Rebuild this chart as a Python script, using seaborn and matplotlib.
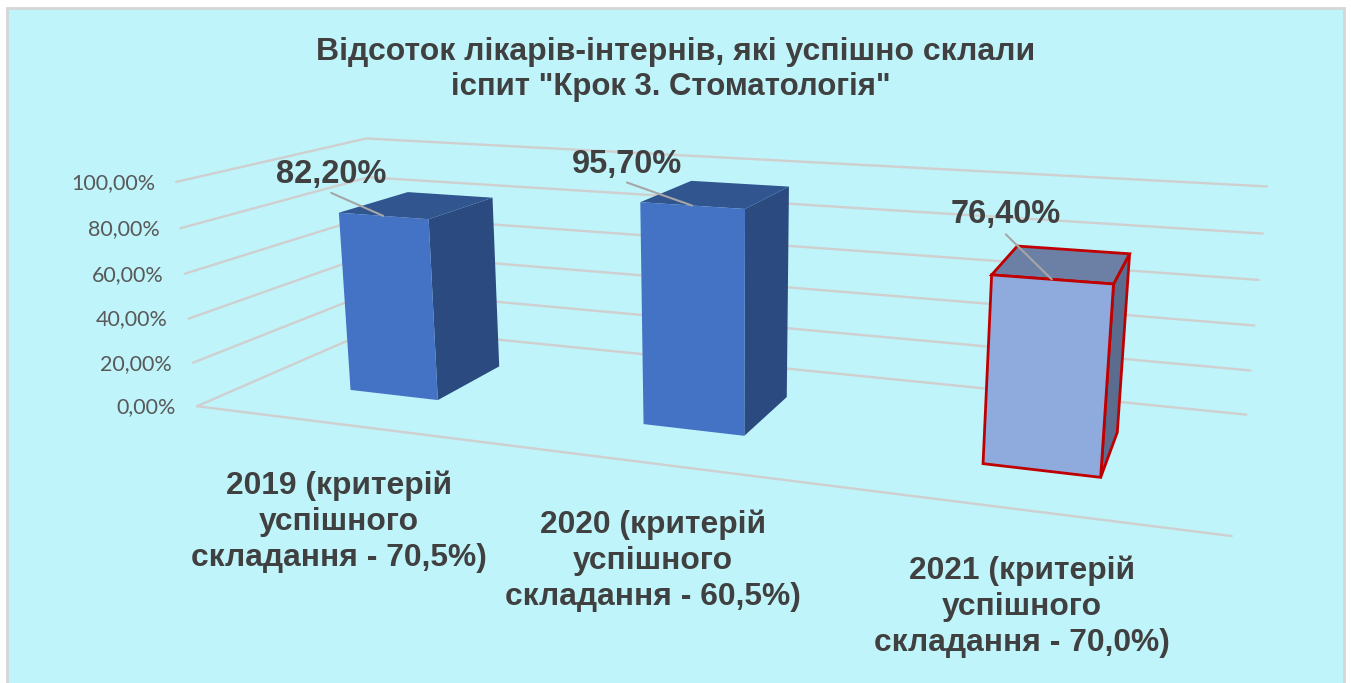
import numpy as np
import matplotlib
matplotlib.use("Agg")
import matplotlib.pyplot as plt
from matplotlib.transforms import Transform
from matplotlib.patches import Rectangle
import seaborn as sns

title_lines = ['Відсоток лікарів-інтернів, які успішно склали', 'іспит "Крок 3. Стоматологія"']
categories = ["2019 (критерій\nуспішного\nскладання - 70,5%)",
              "2020 (критерій\nуспішного\nскладання - 60,5%)",
              "2021 (критерій\nуспішного\nскладання - 70,0%)"]
values = [82.2, 95.7, 76.4]
data_labels = ["82,20%", "95,70%", "76,40%"]
ticks = [0, 20, 40, 60, 80, 100]
tick_labels = ["0,00%", "20,00%", "40,00%", "60,00%", "80,00%", "100,00%"]

# Camera of the 3-D chart: (category, value/100, depth, 1) -> thousandths of a pixel plane
CAMERA = np.array([[0.267071, -0.028547, 0.26353, 0.337772],
                   [0.005478, -0.239651, -0.015384, 0.42388],
                   [-0.073484, -0.039277, 0.20195, 1.0]])
BAR_WIDTH = 0.313
Z_FRONT, Z_BACK = 0.304, 0.700


def hom(X):
    X = np.atleast_2d(X)
    h = np.c_[X, np.ones(len(X))] @ CAMERA.T
    return h[:, :2] / h[:, 2:] * 1000


def project(x, y, z):
    return hom([x, y / 100, z])[0]


class Plane(Transform):
    """Maps (category, value) on the vertical plane at depth z to figure pixels."""
    input_dims = output_dims = 2

    def __init__(self, z):
        super().__init__()
        self.z = z

    def transform_non_affine(self, xy):
        xy = np.asarray(xy, float)
        return hom(np.c_[xy[:, 0], xy[:, 1] / 100, np.full(len(xy), self.z)])


sns.set_theme(style="white")
plt.rcParams['font.family'] = ['Liberation Sans', 'DejaVu Sans']
fig = plt.figure(figsize=(13.51, 6.83), dpi=100, facecolor="white")
ax = fig.add_axes([0, 0, 1, 1])

front_cols = ["#4472C4", "#4472C4", "#8FAADC"]
side_cols = ["#2A4A80", "#2A4A80", "#5B6C8F"]
top_cols = ["#30558F", "#30558F", "#6C7FA5"]
edges = ["none", "none", "#C00000"]
lws = [0, 0, 2.0]

sns.barplot(x=[0, 1, 2], y=values, hue=[0, 1, 2], palette=front_cols, saturation=1,
            dodge=False, legend=False, width=BAR_WIDTH, ax=ax, native_scale=True)
bars = list(ax.patches)
ax.set_xlim(0, 1351)
ax.set_ylim(683, 0)
ax.axis("off")

ax.add_patch(Rectangle((7, 8), 1337, 700, fc="#BFF4FA", ec="#D6D6D6", lw=2, zorder=0))

GRID = dict(color="#CFCFCF", lw=1.7, zorder=1, solid_capstyle="round")
for v in ticks:
    a, b, c = project(-.5, v, 0), project(-.5, v, 1), project(2.5, v, 1)
    ax.plot([a[0], b[0], c[0]], [a[1], b[1], c[1]], **GRID)
a, b = project(-.5, 0, 0), project(2.5, 0, 0)
ax.plot([a[0], b[0]], [a[1], b[1]], **GRID)

for v, s in zip(ticks, tick_labels):
    p = project(-.5, v, 0)
    ax.text(p[0] - 21, p[1] + 1, s, ha="right", va="center", fontsize=15.5,
            color="#595959", family="Lato", zorder=5)

for i, r in enumerate(bars):
    x0, x1 = r.get_x(), r.get_x() + r.get_width()
    v = r.get_height()
    r.set_transform(Plane(Z_FRONT) + ax.transData)
    r.set_zorder(3)
    r.set_clip_on(False)
    r.set_edgecolor(edges[i])
    r.set_linewidth(lws[i])
    side = np.array([project(x1, 0, Z_FRONT), project(x1, 0, Z_BACK), project(x1, v, Z_BACK), project(x1, v, Z_FRONT)])
    top = np.array([project(x0, v, Z_FRONT), project(x1, v, Z_FRONT), project(x1, v, Z_BACK), project(x0, v, Z_BACK)])
    ax.fill(side[:, 0], side[:, 1], fc=side_cols[i], ec=edges[i], lw=lws[i], zorder=2, clip_on=False)
    ax.fill(top[:, 0], top[:, 1], fc=top_cols[i], ec=edges[i], lw=lws[i], zorder=2, clip_on=False)

leader_off = [(-52, -23), (-65, -23), (-46, -45)]
label_lift = [18, 18, 20]
for i, s in enumerate(data_labels):
    e = project(i, values[i], Z_FRONT)
    st = e + np.array(leader_off[i])
    ax.plot([st[0], e[0]], [st[1], e[1]], color="#A6A6A6", lw=1.5, zorder=4)
    ax.text(st[0], st[1] - label_lift[i], s, ha="center", va="center", fontsize=23.5,
            fontweight="bold", color="#404040", zorder=5)

for s, x, y, fs in zip(title_lines, [676, 670.5], [52, 87], [23, 22.4]):
    ax.text(x, y, s, ha="center", va="center", fontsize=fs, fontweight="bold",
            color="#404040", zorder=5)

cat_pos = [(339, 522), (653, 561), (1022, 607)]
for s, (x, y) in zip(categories, cat_pos):
    ax.text(x, y, s, ha="center", va="center", fontsize=22.9, fontweight="bold",
            color="#404040", linespacing=1.27, zorder=5)

fig.savefig("out.png", dpi=100)
